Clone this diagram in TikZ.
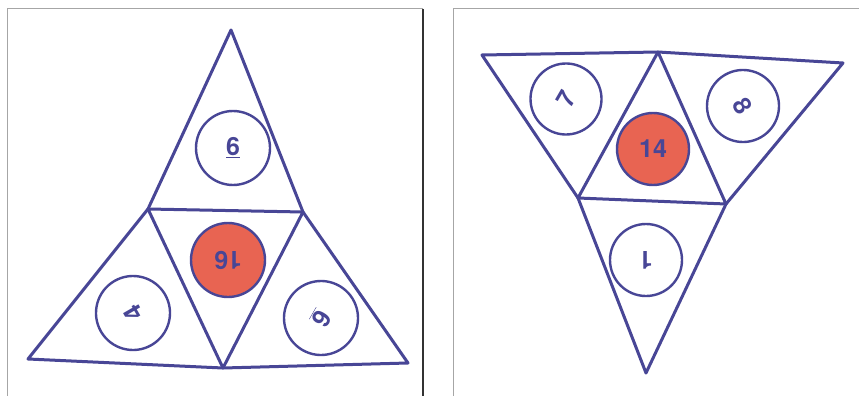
\documentclass[tikz,border=0pt]{standalone}
\usepackage{fontspec}
\setmainfont{TeX Gyre Heros}
\usetikzlibrary{positioning}

\definecolor{inkblue}{RGB}{72,70,150}
\definecolor{dotred}{RGB}{232,100,82}

\begin{document}
\begin{tikzpicture}[
    x=1pt, y=-1pt,
    edge/.style={draw=inkblue, line width=3pt, line join=round},
    disc/.style={circle, draw=inkblue, line width=2.4pt, minimum size=74pt, inner sep=0pt, font=\fontsize{25}{25}\selectfont\bfseries, text=inkblue},
    hot/.style={disc, fill=dotred},
    frame/.style={line width=1pt, black!35}
]
    \useasboundingbox (0,0) rectangle (859,396);
    \fill[white] (0,0) rectangle (859,396);

    \draw[frame] (7,396) -- (7,9) -- (423,9);
    \draw[frame, black!80, line width=1.8pt] (423,9) -- (423,396);
    \draw[frame] (453,396) -- (453,9) -- (859,9);

    % left net
    \coordinate (LA) at (231,30);
    \coordinate (LL) at (148,209);
    \coordinate (LR) at (303,212);
    \coordinate (LBL) at (28,359);
    \coordinate (LBM) at (223,368);
    \coordinate (LBR) at (408,363);
    \draw[edge] (LA) -- (LR) -- (LBR) -- (LBM) -- (LBL) -- (LL) -- cycle;
    \draw[edge] (LL) -- (LR) -- (LBM) -- cycle;

    \node[disc] (ltop) at (233,148) {\underline{6}};
    \node[hot, rotate=180] (lmid) at (228,260) {16};
    \node[disc, rotate=120] (lleft) at (133,313) {4};
    \node[disc, rotate=-120] (lright) at (321,318) {\underline{6}};

    % right net
    \coordinate (RTL) at (482,55);
    \coordinate (RTM) at (658,52);
    \coordinate (RTR) at (843,63);
    \coordinate (RML) at (578,198);
    \coordinate (RMR) at (726,204);
    \coordinate (RB) at (646,373);
    \draw[edge] (RTL) -- (RTM) -- (RTR) -- (RMR) -- (RB) -- (RML) -- cycle;
    \draw[edge] (RML) -- (RTM) -- (RMR) -- cycle;

    \node[disc, minimum size=71pt, rotate=60] (rleft) at (566,99) {7};
    \node[disc, minimum size=72pt, rotate=-60] (rright) at (743,106) {8};
    \node[hot, minimum size=72pt] (rmid) at (653,149) {14};
    \node[disc, minimum size=72pt, rotate=180] (rbot) at (646,260) {1};
\end{tikzpicture}
\end{document}
